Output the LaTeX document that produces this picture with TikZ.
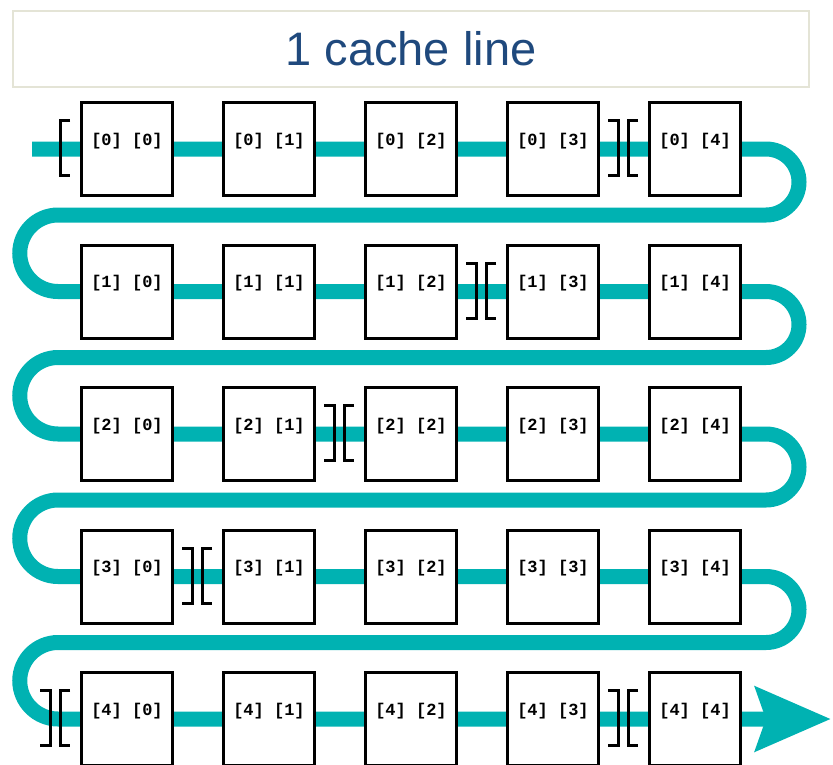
\documentclass[tikz,border=0pt]{standalone}
\usepackage{fontspec}
\setmainfont{Liberation Sans}
\setmonofont{Liberation Mono}
\usepackage{tikz}
\usetikzlibrary{arrows.meta}
\usetikzlibrary{positioning}

\definecolor{pathteal}{RGB}{0,178,178}
\definecolor{titleblue}{RGB}{31,73,125}
\definecolor{titleframe}{RGB}{228,228,214}

\tikzset{
  cell/.style={draw, line width=3pt, fill=white, minimum width=91pt, minimum height=93pt, inner sep=0pt},
  celltext/.style={font=\ttfamily\bfseries\fontsize{17}{17}\selectfont, inner sep=0pt},
  walk/.style={draw=pathteal, line width=15pt},
  openbr/.pic={\draw[line width=3pt] (10,-27.5) -- (0,-27.5) -- (0,27.5) -- (10,27.5);},
  closebr/.pic={\draw[line width=3pt] (-10,-27.5) -- (0,-27.5) -- (0,27.5) -- (-10,27.5);},
}

\begin{document}
\begin{tikzpicture}[x=1pt, y=-1pt]
      \useasboundingbox (0,0) rectangle (833,764);

      \node [draw=titleframe, line width=2pt, minimum width=796pt, minimum height=76pt,
             text=titleblue, font=\fontsize{47}{47}\selectfont] (title) at (411,49) {1 cache line};

      % row-major walk through the array
      \draw [walk, -{Stealth[length=75pt, width=63pt, inset=10pt]}] (32,149)
        \foreach \r in {0,...,3} {
          -- (766,{149+142.5*\r}) arc (-90:90:33)
          -- (58,{215+142.5*\r}) arc (270:90:38.25)
        } -- (831,719);

      \foreach \r in {0,...,4}
        \foreach \c in {0,...,4} {
          \node [cell] (c\r\c) at ({127+142*\c},{149+142.5*\r}) {};
          \node [celltext] (t\r\c) at ([yshift=8pt]c\r\c.center) {[\r] [\c]};
        }

      % cache line boundaries
      \foreach \x/\y in {60/148, 628/148, 486/290.5, 344/433, 202/575.5, 60/718, 628/718}
        \pic at (\x,\y) {openbr};
      \foreach \x/\y in {618/148, 476/290.5, 334/433, 192/575.5, 50/718, 618/718}
        \pic at (\x,\y) {closebr};
    \end{tikzpicture}
\end{document}
